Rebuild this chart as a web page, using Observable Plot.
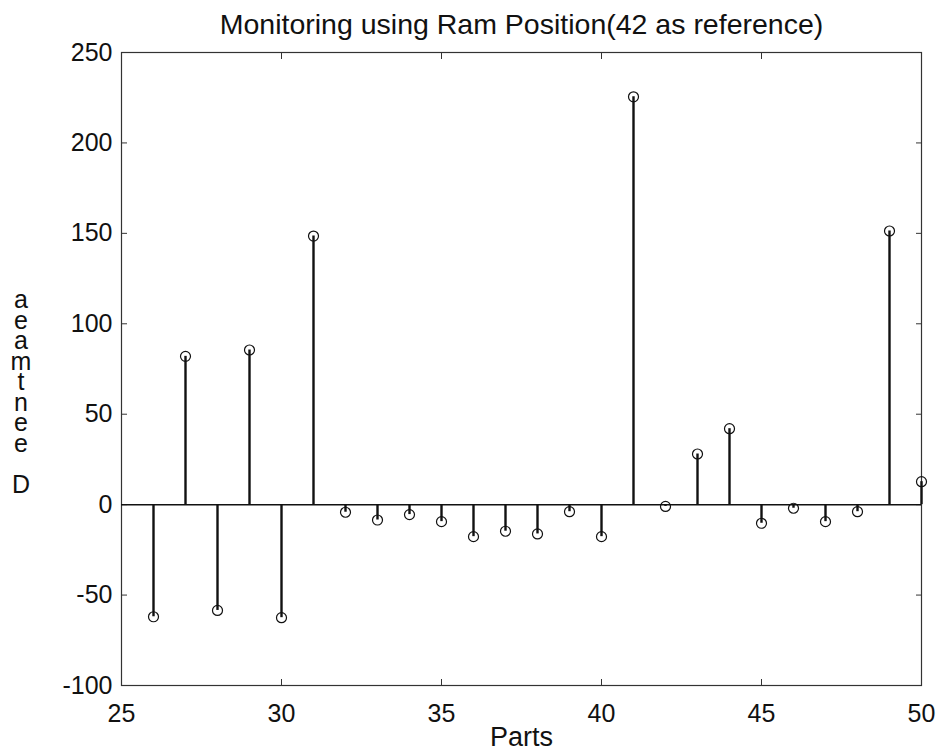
<!DOCTYPE html>
<html>
<head>
<meta charset="utf-8">
<script src="https://cdn.jsdelivr.net/npm/d3@7"></script>
<script src="https://cdn.jsdelivr.net/npm/@observablehq/plot@0.6"></script>
<style>
  html, body { margin: 0; padding: 0; background: #fff; }
  #wrap { position: relative; width: 937px; height: 752px; font-family: "Liberation Sans", Arial, sans-serif; }
  #ylab { position: absolute; left: 8px; top: 289px; width: 26px; white-space: pre; text-align: center; font-size: 25px; line-height: 20.5px; color: #111; }
</style>
</head>
<body>
<div id="wrap"><div id="ylab"></div></div>
<script>
const parts = [26,27,28,29,30,31,32,33,34,35,36,37,38,39,40,41,42,43,44,45,46,47,48,49,50];
const deviation = [-62,82,-58.5,85.5,-62.5,148.5,-4.2,-8.5,-5.5,-9.4,-17.7,-14.7,-16.2,-3.9,-17.7,225.5,-1,28,42,-10.3,-2,-9.4,-3.9,151.3,12.7];
const xTicks = [25,30,35,40,45,50];
const yTicks = [-100,-50,0,50,100,150,200,250];
const titleText = "Monitoring using Ram Position(42 as reference)";
const xLabel = "Parts";
// garbled stacked y label as it appears in the reference (top to bottom)
const yLabelChars = ["a","e","a","m","t","n","e","e","","D"];

const data = parts.map((p, i) => ({part: p, value: deviation[i]}));

const chart = Plot.plot({
  width: 937,
  height: 752,
  marginLeft: 121,
  marginRight: 16,
  marginTop: 52,
  marginBottom: 67,
  style: {fontFamily: "Liberation Sans, Arial, sans-serif", fontSize: "25px", color: "#111", background: "#fff"},
  x: {domain: [25, 50]},
  y: {domain: [-100, 250]},
  marks: [
    Plot.frame({stroke: "#333", strokeWidth: 1.2}),
    Plot.axisX(xTicks, {anchor: "bottom", tickSize: -6, tickPadding: 25, label: null, fontSize: 25, stroke: "#333", tickFormat: d => String(d)}),
    Plot.axisX(xTicks, {anchor: "top", tickSize: -6, text: null, label: null, stroke: "#333"}),
    Plot.axisY(yTicks, {anchor: "left", tickSize: -6, tickPadding: 15, label: null, fontSize: 25, stroke: "#333", tickFormat: d => String(d)}),
    Plot.axisY(yTicks, {anchor: "right", tickSize: -6, text: null, label: null, stroke: "#333"}),
    Plot.ruleY([0], {stroke: "#111", strokeWidth: 1.5}),
    Plot.ruleX(data, {x: "part", y1: 0, y2: "value", stroke: "#111", strokeWidth: 2.4}),
    Plot.dot(data, {x: "part", y: "value", r: 5, stroke: "#111", strokeWidth: 1.2, fill: "none"}),
    Plot.text([titleText], {frameAnchor: "top", dy: -39, fontSize: 28.5, fill: "#111"}),
    Plot.text([xLabel], {frameAnchor: "bottom", dy: 60, fontSize: 27, fill: "#111"})
  ]
});
const wrap = document.getElementById("wrap");
wrap.insertBefore(chart, wrap.firstChild);
document.getElementById("ylab").textContent = yLabelChars.join("\n");
</script>
</body>
</html>
